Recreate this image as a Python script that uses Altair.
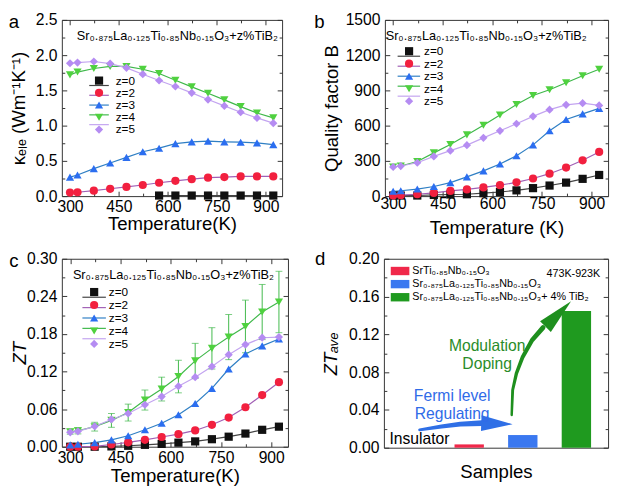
import altair as alt
import pandas as pd

FONT = "Liberation Sans"

# ---------------- data ----------------
temperature = [300, 323, 373, 423, 473, 523, 573, 623, 673, 723, 773, 823, 873, 923]
series = ["z=0", "z=2", "z=3", "z=4", "z=5"]
marker_colors = ["#111111", "#f2203f", "#2b6ef0", "#4fd13f", "#b58cf2"]
line_colors = ["#444444", "#a15fb5", "#2f7fc4", "#3fb84a", "#c3a4f0"]
marker_shapes = ["square", "circle", "triangle-up", "triangle-down", "diamond"]

formula = "Sr₀.₈₇₅La₀.₁₂₅Ti₀.₈₅Nb₀.₁₅O₃+z%TiB₂"

# (a) electronic thermal conductivity
kele_z0 = [None, None, None, None, None, None, 0.008, 0.008, 0.008, 0.008, 0.008, 0.008, 0.008, 0.008]
kele_z2 = [0.05, 0.055, 0.077, 0.104, 0.13, 0.158, 0.19, 0.217, 0.24, 0.262, 0.27, 0.28, 0.28, 0.28]
kele_z3 = [0.27, 0.30, 0.39, 0.47, 0.55, 0.63, 0.68, 0.745, 0.77, 0.78, 0.77, 0.765, 0.755, 0.73]
kele_z4 = [1.72, 1.76, 1.81, 1.84, 1.84, 1.80, 1.74, 1.645, 1.55, 1.46, 1.365, 1.27, 1.18, 1.11]
kele_z5 = [1.885, 1.895, 1.91, 1.88, 1.82, 1.73, 1.64, 1.555, 1.465, 1.37, 1.28, 1.19, 1.11, 1.035]

# (b) quality factor B
qb_z0 = [5, 5, 5, 10, 14, 16, 25, 35, 49, 68, 90, 115, 147, 180]
qb_z2 = [5, 8, 16, 27, 44, 57, 74, 93, 117, 150, 191, 243, 305, 376]
qb_z3 = [41, 46, 60, 82, 115, 164, 215, 273, 344, 436, 556, 652, 700, 747]
qb_z4 = [248, 256, 295, 368, 439, 521, 603, 690, 780, 856, 905, 965, 1025, 1080]
qb_z5 = [248, 256, 284, 338, 387, 434, 496, 556, 616, 679, 736, 777, 791, 772]

# (c) ZT
zt_z0 = [0.0, 0.0, 0.0, 0.0005, 0.0015, 0.003, 0.0045, 0.0065, 0.0085, 0.012, 0.016, 0.021, 0.027, 0.032]
zt_z2 = [0.0, 0.0, 0.0005, 0.0035, 0.007, 0.011, 0.0155, 0.02, 0.026, 0.035, 0.0465, 0.063, 0.0825, 0.103]
zt_z3 = [0.003, 0.004, 0.0065, 0.011, 0.0175, 0.027, 0.0375, 0.051, 0.069, 0.093, 0.124, 0.148, 0.161, 0.172]
zt_z4 = [0.024, 0.0255, 0.032, 0.042, 0.0545, 0.0745, 0.092, 0.112, 0.137, 0.157, 0.175, 0.192, 0.215, 0.231]
zt_z5 = [0.023, 0.0245, 0.0325, 0.0435, 0.053, 0.067, 0.080, 0.0965, 0.111, 0.128, 0.147, 0.163, 0.174, 0.175]
zt_z4_err = [0.004, 0.005, 0.007, 0.011, 0.0135, 0.016, 0.019, 0.026, 0.028, 0.033, 0.036, 0.042, 0.044, 0.049]

# (d) average ZT
d_categories = ["SrTi₀.₈₅Nb₀.₁₅O₃",
                "Sr₀.₈₇₅La₀.₁₂₅Ti₀.₈₅Nb₀.₁₅O₃",
                "Sr₀.₈₇₅La₀.₁₂₅Ti₀.₈₅Nb₀.₁₅O₃+ 4% TiB₂"]
d_values = [0.0035, 0.0134, 0.1447]
d_positions = [1.5, 2.5, 3.5]
d_colors = ["#f0284a", "#3a78f0", "#1f9a1f"]

# annotation arrows (panel d, data coordinates)
blue_arrow_x = [0.576, 0.983, 1.333, 1.741]
blue_arrow_y = [0.0189, 0.0224, 0.0249, 0.026]
blue_arrow_w = [3.0, 4.0, 5.0, 6.0]
green_arrow_x = [2.293, 2.311, 2.381, 2.498, 2.672, 2.877]
green_arrow_y = [0.0347, 0.0611, 0.0786, 0.0961, 0.1137, 0.1271]
green_arrow_w = [2.5, 3.0, 3.5, 4.0, 4.5, 5.0]

T_DOMAIN = [275, 950]
T_MAJOR = [300, 450, 600, 750, 900]
T_MINOR = [375, 525, 675, 825]

fill_scale = alt.Scale(domain=series, range=marker_colors)
stroke_scale = alt.Scale(domain=series, range=line_colors)
shape_scale = alt.Scale(domain=series, range=marker_shapes)
MARKER_SIZE = 70


def long_df(cols):
    rows = []
    for s, vals in zip(series, cols):
        for t, v in zip(temperature, vals):
            if v is not None:
                rows.append({"T": t, "v": v, "s": s})
    return pd.DataFrame(rows)


def tick_axis(orient, values, size):
    return alt.Axis(orient=orient, values=values, labels=False, title=None,
                    tickSize=size, offset=-size, domain=False, grid=False)


def frame_layers(xdom, ydom, xmaj, xmin, ymaj, ymin, xmain, ymain, x_ticks=True):
    fdf = pd.DataFrame({"fx": xdom, "fy": ydom})
    xs = alt.Scale(domain=xdom, nice=False, zero=False)
    ys = alt.Scale(domain=ydom, nice=False, zero=False)
    layers = [alt.Chart(fdf).mark_point(opacity=0).encode(
        x=alt.X("fx:Q", scale=xs, axis=xmain),
        y=alt.Y("fy:Q", scale=ys, axis=ymain))]
    for xo, yo, xv, yv, sz in [("top", "right", xmaj, ymaj, 5),
                               ("bottom", "left", xmin, ymin, 3),
                               ("top", "right", xmin, ymin, 3)]:
        xa = tick_axis(xo, xv, sz) if x_ticks else None
        layers.append(alt.Chart(fdf).mark_point(opacity=0).encode(
            x=alt.X("fx:Q", scale=xs, axis=xa),
            y=alt.Y("fy:Q", scale=ys, axis=tick_axis(yo, yv, sz))))
    return layers, xs, ys


def y_main(values, fmt, title, title_x, title_y, italic=False):
    return alt.Axis(orient="left", values=values, format=fmt, title=title,
                    tickSize=5, offset=-5, labelPadding=5, domain=False, grid=False,
                    titleX=title_x, titleY=title_y, titleAngle=270, titleAlign="center",
                    titleBaseline="bottom", titleFontStyle="italic" if italic else "normal")


def x_main(title, labpad, titlepad):
    return alt.Axis(orient="bottom", values=T_MAJOR, format="d", title=title,
                    tickSize=5, offset=-5, labelPadding=labpad, titlePadding=titlepad,
                    domain=False, grid=False)


def text_layer(text, x, y, size, **kw):
    return alt.Chart(pd.DataFrame({"t": [text]})).mark_text(
        fontSize=size, font=FONT, **kw).encode(x=alt.value(x), y=alt.value(y), text="t:N")


def series_legend(xl0, xl1, xsym, xt, y0, y1):
    ldf = pd.DataFrame({"s": series, "idx": list(range(len(series)))})
    yenc = alt.Y("idx:O", axis=None,
                 scale=alt.Scale(domain=list(range(len(series))), range=[y0, y1], padding=0))
    rule = alt.Chart(ldf).mark_rule(strokeWidth=1.2).encode(
        x=alt.value(xl0), x2=alt.value(xl1), y=yenc,
        stroke=alt.Stroke("s:N", scale=stroke_scale, legend=None))
    pts = alt.Chart(ldf).mark_point(filled=True, opacity=1, strokeWidth=0, size=MARKER_SIZE).encode(
        x=alt.value(xsym), y=yenc,
        fill=alt.Fill("s:N", scale=fill_scale, legend=None),
        shape=alt.Shape("s:N", scale=shape_scale, legend=None))
    txt = alt.Chart(ldf).mark_text(align="left", baseline="middle", fontSize=12, font=FONT).encode(
        x=alt.value(xt), y=yenc, text="s:N")
    return [rule, pts, txt]


def series_panel(w, h, cols, ydom, ymaj, ymin, yfmt, ytitle, ytitle_x, xtitle, labpad, titlepad,
                 letter, letter_x, title_x, legend_args, err=None, italic=False):
    frames, xs, ys = frame_layers(T_DOMAIN, ydom, T_MAJOR, T_MINOR, ymaj, ymin,
                                  x_main(xtitle, labpad, titlepad),
                                  y_main(ymaj, yfmt, ytitle, ytitle_x, h / 2, italic))
    df = long_df(cols)
    base = alt.Chart(df).encode(x=alt.X("T:Q", scale=xs, axis=None),
                                y=alt.Y("v:Q", scale=ys, axis=None))
    lines = base.mark_line(strokeWidth=1.2).encode(
        stroke=alt.Stroke("s:N", scale=stroke_scale, legend=None), detail="s:N")
    pts = base.mark_point(filled=True, opacity=1, strokeWidth=0, size=MARKER_SIZE).encode(
        fill=alt.Fill("s:N", scale=fill_scale, legend=None),
        shape=alt.Shape("s:N", scale=shape_scale, legend=None))
    data_layers = [lines]
    if err is not None:
        edf = pd.DataFrame({"T": temperature,
                            "lo": [v - e for v, e in zip(err[0], err[1])],
                            "hi": [v + e for v, e in zip(err[0], err[1])]})
        eb = alt.Chart(edf).encode(x=alt.X("T:Q", scale=xs, axis=None))
        data_layers.append(eb.mark_rule(color="#3fb84a", strokeWidth=1).encode(
            y=alt.Y("lo:Q", scale=ys, axis=None), y2="hi:Q"))
        data_layers.append(eb.mark_tick(orient="horizontal", color="#3fb84a", size=7, thickness=1).encode(
            y=alt.Y("hi:Q", scale=ys, axis=None)))
        data_layers.append(eb.mark_tick(orient="horizontal", color="#3fb84a", size=7, thickness=1).encode(
            y=alt.Y("lo:Q", scale=ys, axis=None)))
    data_layers.append(pts)
    annots = [text_layer(formula, title_x, 17, 13, align="center", baseline="middle"),
              text_layer(letter, letter_x, 2, 19, align="center", baseline="middle")]
    inner = alt.layer(*frames, *data_layers, *annots).resolve_axis(x="independent", y="independent")
    return alt.layer(inner, *series_legend(*legend_args)).resolve_scale(y="independent").properties(
        width=w, height=h)


pa = series_panel(225, 180, [kele_z0, kele_z2, kele_z3, kele_z4, kele_z5], [0, 2.5],
                  [0, 0.5, 1.0, 1.5, 2.0, 2.5], [0.25, 0.75, 1.25, 1.75, 2.25], ".1f",
                  "κₑₗₑ (Wm⁻¹K⁻¹)", -39, "Temperature(K)", 2.5, 1,
                  "a", -49, 118, (28, 48, 38, 55, 62, 112))
pb = series_panel(228, 180, [qb_z0, qb_z2, qb_z3, qb_z4, qb_z5], [0, 1500],
                  [0, 300, 600, 900, 1200, 1500], [150, 450, 750, 1050, 1350], "d",
                  "Quality factor B", -49, "Temperature (K)", 0, 7,
                  "b", -67, 103.5, (13, 36, 24.7, 40, 32, 83))
pc = series_panel(231, 192, [zt_z0, zt_z2, zt_z3, zt_z4, zt_z5], [0, 0.30],
                  [0, 0.06, 0.12, 0.18, 0.24, 0.30], [0.03, 0.09, 0.15, 0.21, 0.27], ".2f",
                  "ZT", -38, "Temperature(K)", 3.5, 1,
                  "c", -49, 114, (21, 45, 33, 48, 34, 87),
                  err=(zt_z4, zt_z4_err), italic=True)

# ---------------- panel d ----------------
D_W, D_H = 229, 193
d_ymaj = [0, 0.04, 0.08, 0.12, 0.16, 0.20]
d_ymin = [0.02, 0.06, 0.10, 0.14, 0.18]
d_frames, dxs, dys = frame_layers(
    [0, 4], [0, 0.2], None, None, d_ymaj, d_ymin,
    alt.Axis(orient="bottom", labels=False, ticks=False, title="Samples", titlePadding=15,
             domain=False, grid=False),
    y_main(d_ymaj, ".2f", "ZTₐᵥₑ", -49, D_H / 2, italic=True),
    x_ticks=False)
d_color = alt.Scale(domain=d_categories, range=d_colors)
bdf = pd.DataFrame({"pos": d_positions, "val": d_values, "cat": d_categories})
bars = alt.Chart(bdf).mark_bar(orient="vertical", size=30).encode(
    x=alt.X("pos:Q", scale=dxs, axis=None), y=alt.Y("val:Q", scale=dys, axis=None),
    color=alt.Color("cat:N", scale=d_color, legend=None))


def arrow(xv, yv, wv, color, head_x, head_y, head_path, head_size, head_angle):
    adf = pd.DataFrame({"x": xv, "y": yv, "w": wv, "i": list(range(len(xv)))})
    body = alt.Chart(adf).mark_trail(color=color).encode(
        x=alt.X("x:Q", scale=dxs, axis=None), y=alt.Y("y:Q", scale=dys, axis=None),
        size=alt.Size("w:Q", scale=None, legend=None), order="i:Q")
    head = alt.Chart(pd.DataFrame({"x": [head_x], "y": [head_y]})).mark_point(
        shape=head_path, filled=True, opacity=1, strokeWidth=0, color=color,
        size=head_size, angle=head_angle).encode(
        x=alt.X("x:Q", scale=dxs, axis=None), y=alt.Y("y:Q", scale=dys, axis=None))
    return [body, head]


blue_arrow = arrow(blue_arrow_x, blue_arrow_y, blue_arrow_w, "#2f6fe6", 2.017, 0.0255,
                   "M-1,-0.5L1,0L-1,0.5Z", 1024, 2)
green_arrow = arrow(green_arrow_x, green_arrow_y, green_arrow_w, "#1e8f1e", 3.162, 0.1416,
                    "M-1,-0.42L1,0L-1,0.42Z", 1369, 315)

d_annots = [
    text_layer("Fermi level\nRegulating", 69.7, 140, 16, align="center", baseline="middle",
               lineBreak="\n", lineHeight=19, color="#2f6be8"),
    text_layer("Modulation\nDoping", 105.5, 89, 16, align="center", baseline="middle",
               lineBreak="\n", lineHeight=18.5, color="#2a8c2a"),
    text_layer("Insulator", 5.7, 184, 16, align="left", baseline="middle", color="black"),
    text_layer("473K-923K", 221, 16, 11, align="right", baseline="middle", color="black"),
    text_layer("d", -65, 0, 19, align="center", baseline="middle"),
]
d_inner = alt.layer(*d_frames, bars, *blue_arrow, *green_arrow, *d_annots).resolve_axis(
    x="independent", y="independent")

ldf_d = pd.DataFrame({"cat": d_categories, "idx": [0, 1, 2]})
d_leg_y = alt.Y("idx:O", axis=None, scale=alt.Scale(domain=[0, 1, 2], range=[12.5, 39.3], padding=0))
d_leg_sym = alt.Chart(ldf_d).mark_point(shape="M-1,-0.45H1V0.45H-1Z", filled=True, opacity=1,
                                        strokeWidth=0, size=361).encode(
    x=alt.value(16.5), y=d_leg_y, color=alt.Color("cat:N", scale=d_color, legend=None))
d_leg_txt = alt.Chart(ldf_d).mark_text(align="left", baseline="middle", fontSize=11, font=FONT).encode(
    x=alt.value(29), y=d_leg_y, text="cat:N")
pd_ = alt.layer(d_inner, d_leg_sym, d_leg_txt).resolve_scale(y="independent").properties(
    width=D_W, height=D_H)

chart = alt.vconcat(
    alt.hconcat(pa, pb, spacing=28),
    alt.hconcat(pc, pd_, spacing=23),
    spacing=11,
).properties(
    padding={"left": 0, "top": -2, "right": 0, "bottom": -3}
).configure(font=FONT).configure_view(
    stroke="#333333", strokeWidth=1
).configure_axis(
    labelFont=FONT, titleFont=FONT, labelFontSize=16, titleFontSize=19,
    titleFontWeight="normal", labelColor="black", titleColor="black",
    tickColor="#333333", tickWidth=1, labelFlush=False, labelOverlap=False, grid=False
)

chart.save("out.html", embed_options={"renderer": "svg", "actions": False})
